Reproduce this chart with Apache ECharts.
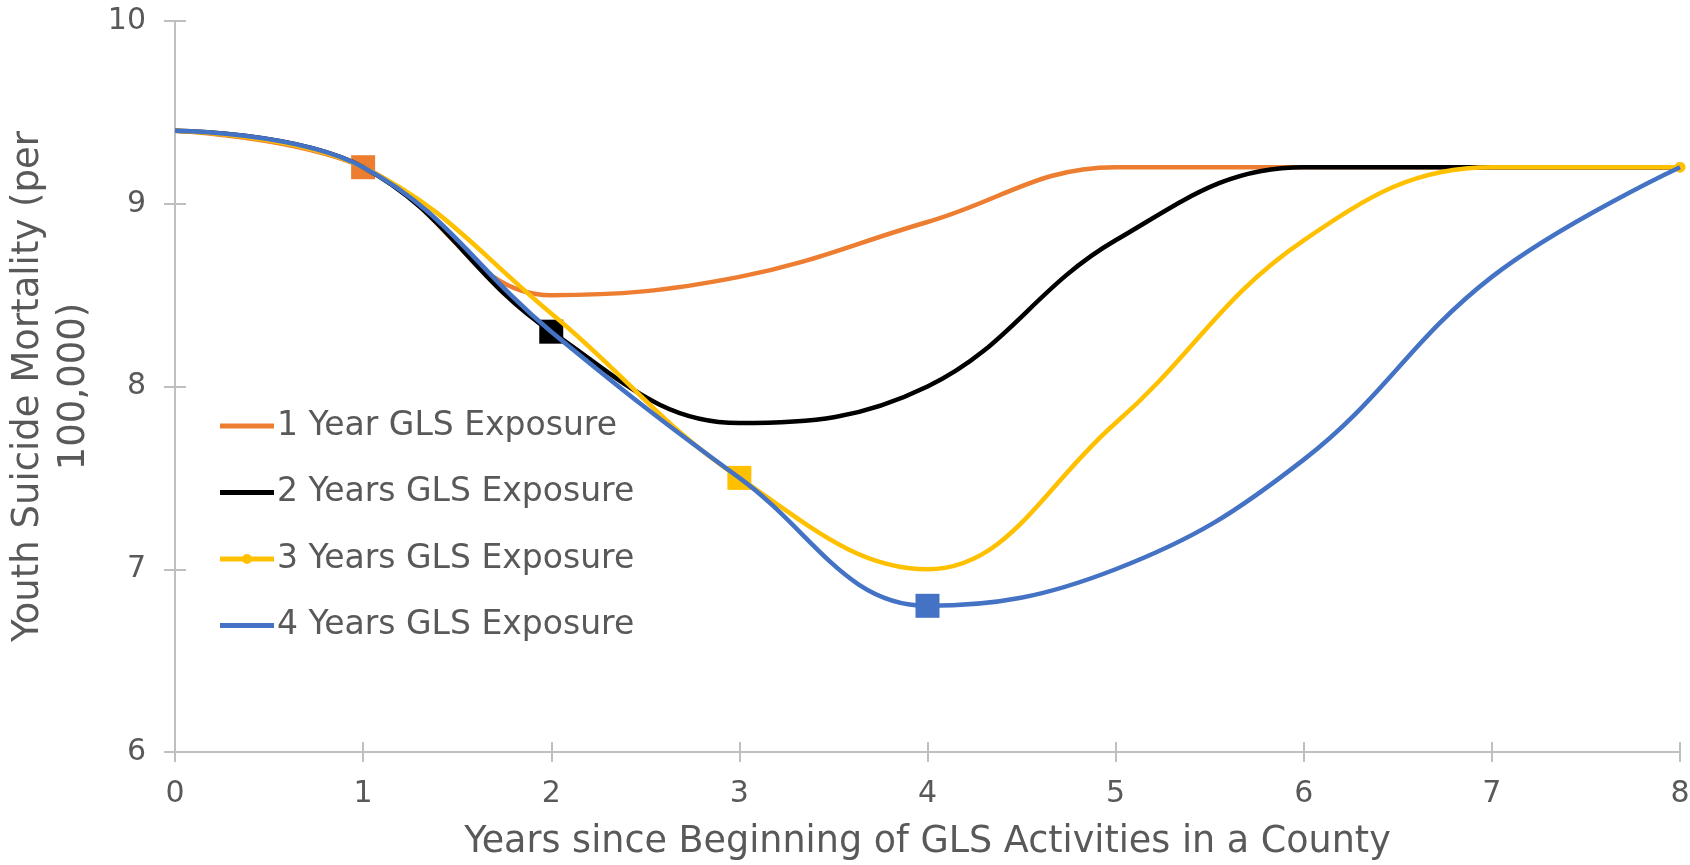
<!DOCTYPE html>
<html>
<head>
<meta charset="utf-8">
<title>GLS Exposure</title>
<script src="https://cdn.jsdelivr.net/npm/echarts@6/dist/echarts.min.js"></script>
<style>
html,body{margin:0;padding:0;background:#fff;}
#line{width:1690px;height:865px;}
</style>
</head>
<body>
<div id="line"></div>
<script>
var years = ['0','1','2','3','4','5','6','7','8'];
var names = ['1 Year GLS Exposure','2 Years GLS Exposure','3 Years GLS Exposure','4 Years GLS Exposure'];
var oneYear   = [9.4, 9.2, 8.5, 8.6, 8.9, 9.2, 9.2, 9.2, 9.2];
var twoYears  = [9.4, 9.2, 8.3, 7.8, 8.0, 8.8, 9.2, 9.2, 9.2];
var threeYears= [9.4, 9.2, 8.4, 7.5, 7.0, 7.8, 8.8, 9.2, 9.2];
var fourYears = [9.4, 9.2, 8.3, 7.5, 6.8, 7.0, 7.6, 8.6, 9.2];
// index of the square marker on each line (end of exposure)
var squareAt = [1, 2, 3, 4];
var yTicks = [6, 7, 8, 9, 10];

var colors = ['#ED7D31','#000000','#FFC000','#4472C4'];
var txt = '#595959';
var font = 'DejaVu Sans';

// legend icons: plain thick line, the 3-year one carries a dot
var iconLine = 'path://M0,4.5H54V9.5H0Z';
var iconDot = 'path://M0,4.5H54V9.5H0Z M22,7a5,5 0 1,1 10,0a5,5 0 1,1 -10,0Z';

function points(vals, sq, lastCircle){
    return vals.map(function(v, i){
        if(i === sq) return {value: v, symbol: 'rect', symbolSize: 24};
        if(lastCircle && i === vals.length - 1) return {value: v, symbol: 'circle', symbolSize: 11};
        return {value: v, symbol: 'none'};
    });
}

var lines = [oneYear, twoYears, threeYears, fourYears];
var series = lines.map(function(vals, k){
    return {
        name: names[k],
        type: 'line',
        smooth: 0.4,
        symbol: 'none',
        showSymbol: true,
        data: points(vals, squareAt[k], k === 2),
        lineStyle: {color: colors[k], width: 4.5},
        itemStyle: {color: colors[k]},
        z: 2 + k
    };
});

var line = echarts.init(document.getElementById('line'));
line.setOption({
    animation: false,
    color: colors,
    textStyle: {fontFamily: font},
    grid: {left: 175, right: 10, top: 21, bottom: 113, containLabel: false, outerBoundsMode: 'none'},
    legend: {
        orient: 'vertical',
        left: 215,
        top: 404,
        itemWidth: 54,
        itemHeight: 14,
        itemGap: 32.5,
        data: names.map(function(n, k){
            return {name: n, icon: k === 2 ? iconDot : iconLine};
        }),
        textStyle: {color: txt, fontSize: 33, lineHeight: 34, fontFamily: font, padding: [0,0,0,-2]}
    },
    xAxis: [{
        type: 'category',
        boundaryGap: false,
        data: years,
        name: 'Years since Beginning of GLS Activities in a County',
        nameLocation: 'middle',
        nameGap: 72,
        nameTextStyle: {color: txt, fontSize: 36.5, fontFamily: font},
        axisLine: {lineStyle: {color: '#BFBFBF', width: 2}},
        axisTick: {show: true, length: 10, lineStyle: {color: '#BFBFBF', width: 2}},
        axisLabel: {color: txt, fontSize: 30, margin: 27, fontFamily: font},
        splitLine: {show: false}
    }, {
        type: 'category',
        position: 'bottom',
        boundaryGap: false,
        data: years,
        axisLine: {show: false},
        axisTick: {show: true, inside: true, length: 10, lineStyle: {color: '#BFBFBF', width: 2}},
        axisLabel: {show: false},
        splitLine: {show: false}
    }],
    yAxis: [{
        type: 'value',
        min: yTicks[0],
        max: yTicks[yTicks.length - 1],
        interval: 1,
        name: 'Youth Suicide Mortality (per\n100,000)',
        nameLocation: 'middle',
        nameGap: 75,
        nameTextStyle: {color: txt, fontSize: 37, lineHeight: 46, fontFamily: font, align: 'center'},
        axisLine: {show: true, lineStyle: {color: '#BFBFBF', width: 2}},
        axisTick: {show: true, length: 11, lineStyle: {color: '#BFBFBF', width: 2}},
        axisLabel: {color: txt, fontSize: 30, margin: 29, fontFamily: font},
        splitLine: {show: false}
    }, {
        type: 'value',
        position: 'left',
        min: yTicks[0],
        max: yTicks[yTicks.length - 1],
        interval: 1,
        axisLine: {show: false},
        axisTick: {show: true, inside: true, length: 11, lineStyle: {color: '#BFBFBF', width: 2}},
        axisLabel: {show: false},
        splitLine: {show: false}
    }],
    series: series
});
</script>
</body>
</html>
